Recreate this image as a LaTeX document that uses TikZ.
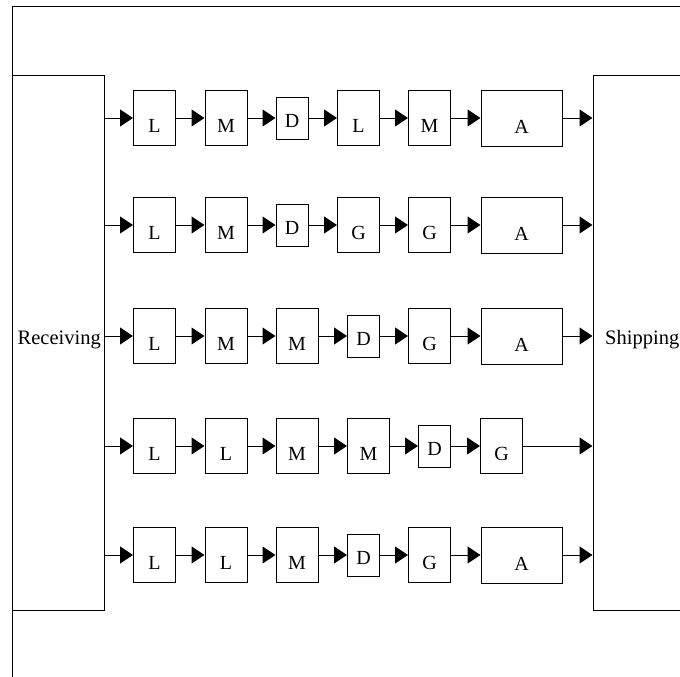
\documentclass[tikz,border=0pt]{standalone}
\usepackage{fontspec}
\setmainfont{Liberation Serif}
\usetikzlibrary{arrows.meta}

\tikzset{
  stage/.style={draw, line width=1pt, inner sep=0pt, minimum width=42pt, minimum height=55pt,
    font=\fontsize{20pt}{22pt}\selectfont, text height=28pt, text depth=0pt},
  drill/.style={stage, minimum width=32pt, minimum height=42pt, text height=19pt},
  assembly/.style={stage, minimum width=81pt, minimum height=56pt, text height=31pt},
  dock/.style={draw, line width=1pt, inner sep=0pt, minimum width=92pt, minimum height=534pt},
  docklabel/.style={inner sep=0pt, font=\fontsize{20.5pt}{22pt}\selectfont},
  flow/.style={line width=1pt, -{Triangle[length=13pt,width=17pt]}}
}

\begin{document}
\begin{tikzpicture}[x=1pt, y=-1pt]
        \useasboundingbox (0,0) rectangle (680,677);

        % Outer frame (only top and left edge show)
        \draw[line width=1pt] (680,7) -| (12,677);

        % Docks
        \node[dock] (recv) at (58,343) {};
        \node[dock] (ship) at (639,343) {};
        \node[docklabel, anchor=base east] (recvlabel) at (101,344) {Receiving};
        \node[docklabel, anchor=base west] (shiplabel) at (605,344) {Shipping};

        % Row 1
        \node[stage] (r1a) at (154.5,118) {L};
        \node[stage] (r1b) at (226,118) {M};
        \node[drill] (r1c) at (292,118) {D};
        \node[stage] (r1d) at (358.5,118) {L};
        \node[stage] (r1e) at (429.5,118) {M};
        \node[assembly] (r1f) at (521.5,118) {A};

        % Row 2
        \node[stage] (r2a) at (154.5,225) {L};
        \node[stage] (r2b) at (226,225) {M};
        \node[drill] (r2c) at (292,225) {D};
        \node[stage] (r2d) at (358.5,225) {G};
        \node[stage] (r2e) at (429.5,225) {G};
        \node[assembly] (r2f) at (521.5,225) {A};

        % Row 3
        \node[stage] (r3a) at (154.5,336) {L};
        \node[stage] (r3b) at (226,336) {M};
        \node[stage] (r3c) at (297,336) {M};
        \node[drill] (r3d) at (363.5,336) {D};
        \node[stage] (r3e) at (429.5,336) {G};
        \node[assembly] (r3f) at (521.5,336) {A};

        % Row 4
        \node[stage] (r4a) at (154.5,446) {L};
        \node[stage] (r4b) at (226,446) {L};
        \node[stage] (r4c) at (297,446) {M};
        \node[stage] (r4d) at (368.5,446) {M};
        \node[drill] (r4e) at (434.5,446) {D};
        \node[stage] (r4f) at (501.5,446) {G};

        % Row 5
        \node[stage] (r5a) at (154.5,555) {L};
        \node[stage] (r5b) at (226,555) {L};
        \node[stage] (r5c) at (297,555) {M};
        \node[drill] (r5d) at (363.5,555) {D};
        \node[stage] (r5e) at (429.5,555) {G};
        \node[assembly] (r5f) at (521.5,555) {A};

        % Flow arrows
        \draw[flow] (recv.east |- r1a) -- (r1a);
        \draw[flow] (r1a) -- (r1b);
        \draw[flow] (r1b) -- (r1c);
        \draw[flow] (r1c) -- (r1d);
        \draw[flow] (r1d) -- (r1e);
        \draw[flow] (r1e) -- (r1f);
        \draw[flow] (r1f) -- (r1f -| ship.west);

        \draw[flow] (recv.east |- r2a) -- (r2a);
        \draw[flow] (r2a) -- (r2b);
        \draw[flow] (r2b) -- (r2c);
        \draw[flow] (r2c) -- (r2d);
        \draw[flow] (r2d) -- (r2e);
        \draw[flow] (r2e) -- (r2f);
        \draw[flow] (r2f) -- (r2f -| ship.west);

        \draw[flow] (recv.east |- r3a) -- (r3a);
        \draw[flow] (r3a) -- (r3b);
        \draw[flow] (r3b) -- (r3c);
        \draw[flow] (r3c) -- (r3d);
        \draw[flow] (r3d) -- (r3e);
        \draw[flow] (r3e) -- (r3f);
        \draw[flow] (r3f) -- (r3f -| ship.west);

        \draw[flow] (recv.east |- r4a) -- (r4a);
        \draw[flow] (r4a) -- (r4b);
        \draw[flow] (r4b) -- (r4c);
        \draw[flow] (r4c) -- (r4d);
        \draw[flow] (r4d) -- (r4e);
        \draw[flow] (r4e) -- (r4f);
        \draw[flow] (r4f) -- (r4f -| ship.west);

        \draw[flow] (recv.east |- r5a) -- (r5a);
        \draw[flow] (r5a) -- (r5b);
        \draw[flow] (r5b) -- (r5c);
        \draw[flow] (r5c) -- (r5d);
        \draw[flow] (r5d) -- (r5e);
        \draw[flow] (r5e) -- (r5f);
        \draw[flow] (r5f) -- (r5f -| ship.west);
\end{tikzpicture}
\end{document}
